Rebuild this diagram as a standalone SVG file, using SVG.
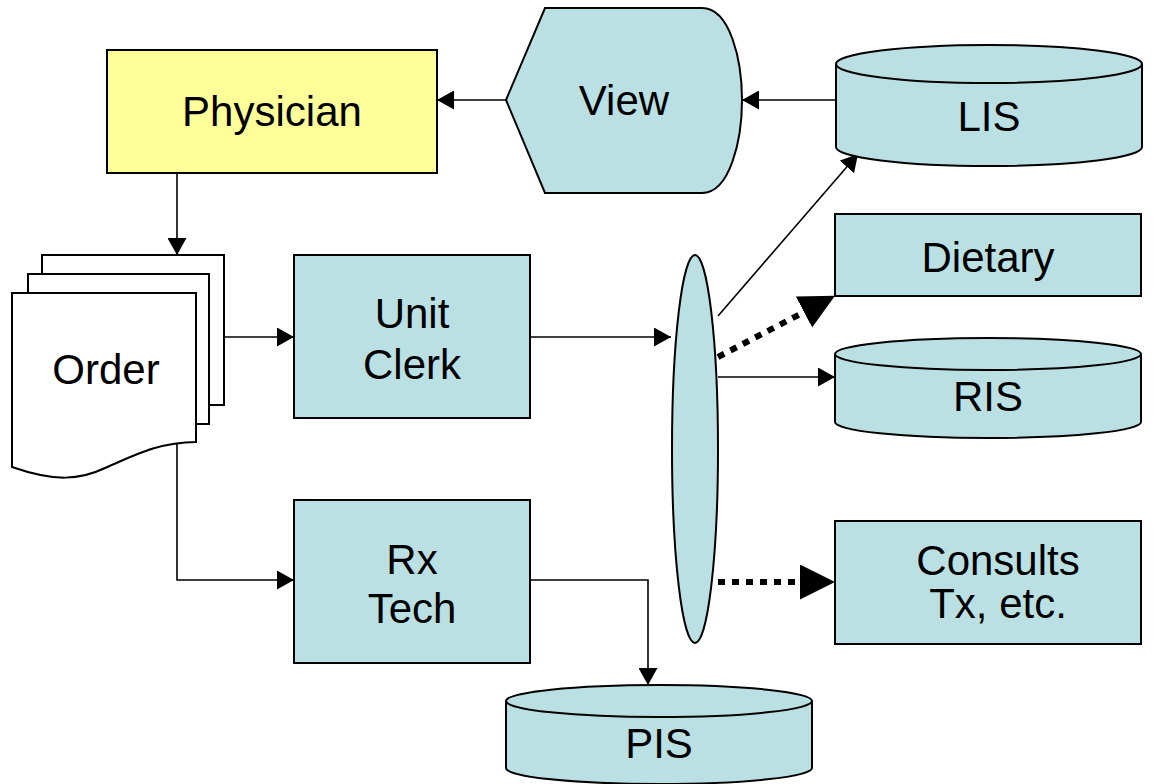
<svg xmlns="http://www.w3.org/2000/svg" width="1153" height="784" viewBox="0 0 1153 784">
<style>
.box{fill:#BBE0E3;stroke:#000;stroke-width:2}
.doc{fill:#fff;stroke:#000;stroke-width:2}
.t{font-family:"Liberation Sans",Arial,sans-serif;font-size:42px;fill:#000;text-anchor:middle}
.ln{fill:none;stroke:#000;stroke-width:1.6}
.dot{fill:none;stroke:#000;stroke-width:6;stroke-dasharray:7 7}
</style>
<defs>
<marker id="a" markerUnits="userSpaceOnUse" markerWidth="18" markerHeight="19" refX="17" refY="9.5" orient="auto">
<path d="M0,0 L17,9.5 L0,19 Z" fill="#000"/>
</marker>
<marker id="b" markerUnits="userSpaceOnUse" markerWidth="36" markerHeight="36" refX="0" refY="17.5" orient="auto">
<path d="M0,0 L35,17.5 L0,35 Z" fill="#000"/>
</marker>
</defs>
<g id="connectors">
<line class="ln" x1="506" y1="100" x2="437" y2="100" marker-end="url(#a)"/>
<line class="ln" x1="836" y1="100" x2="742" y2="100" marker-end="url(#a)"/>
<line class="ln" x1="177" y1="173" x2="177" y2="255" marker-end="url(#a)"/>
<line class="ln" x1="224" y1="337" x2="294" y2="337" marker-end="url(#a)"/>
<polyline class="ln" points="177,440 177,580 294,580" marker-end="url(#a)"/>
<polyline class="ln" points="530,580 648,580 648,685" marker-end="url(#a)"/>
<line class="ln" x1="530" y1="337" x2="671" y2="337" marker-end="url(#a)"/>
<line class="ln" x1="718" y1="316" x2="858" y2="154" marker-end="url(#a)"/>
<line class="ln" x1="718" y1="377" x2="835" y2="377" marker-end="url(#a)"/>
<line class="dot" x1="718" y1="357" x2="804" y2="312" marker-end="url(#b)"/>
<line class="dot" x1="718" y1="582" x2="800" y2="582" marker-end="url(#b)"/>
</g>
<g id="physician">
<rect x="107" y="50" width="330" height="123" fill="#FFFF99" stroke="#000" stroke-width="2"/>
<text class="t" x="272" y="126">Physician</text>
</g>
<g id="view">
<path class="box" d="M506,100 L545,8 L702,8 C730,8 742,60 742,100 C742,140 730,193 702,193 L545,193 Z"/>
<text class="t" x="624" y="115">View</text>
</g>
<g id="lis">
<path class="box" d="M836,64 V147 A153,19 0 0 0 1142,147 V64"/>
<ellipse class="box" cx="989" cy="64" rx="153" ry="19"/>
<text class="t" x="989" y="131">LIS</text>
</g>
<g id="order">
<rect class="doc" x="42" y="255" width="182" height="150"/>
<rect class="doc" x="28" y="274" width="181" height="150"/>
<path class="doc" d="M12,293 H196 V442 C160,442 135,455 105,468 C80,480 55,482 12,467 Z"/>
<text class="t" x="106" y="384">Order</text>
</g>
<g id="unitclerk">
<rect class="box" x="294" y="255" width="236" height="163"/>
<text class="t" x="412" y="328">Unit</text>
<text class="t" x="412" y="379">Clerk</text>
</g>
<g id="rxtech">
<rect class="box" x="294" y="500" width="236" height="163"/>
<text class="t" x="412" y="574">Rx</text>
<text class="t" x="412" y="623">Tech</text>
</g>
<g id="hub">
<ellipse class="box" cx="695" cy="449" rx="23" ry="194"/>
</g>
<g id="dietary">
<rect class="box" x="835" y="214" width="306" height="82"/>
<text class="t" x="988" y="272">Dietary</text>
</g>
<g id="ris">
<path class="box" d="M835,354 V422 A153,16 0 0 0 1141,422 V354"/>
<ellipse class="box" cx="988" cy="354" rx="153" ry="16"/>
<text class="t" x="988" y="411">RIS</text>
</g>
<g id="consults">
<rect class="box" x="835" y="521" width="306" height="123"/>
<text class="t" x="998" y="575">Consults</text>
<text class="t" x="998" y="618">Tx, etc.</text>
</g>
<g id="pis">
<path class="box" d="M506,701 V768 A153,16 0 0 0 812,768 V701"/>
<ellipse class="box" cx="659" cy="701" rx="153" ry="16"/>
<text class="t" x="659" y="758">PIS</text>
</g>
</svg>
